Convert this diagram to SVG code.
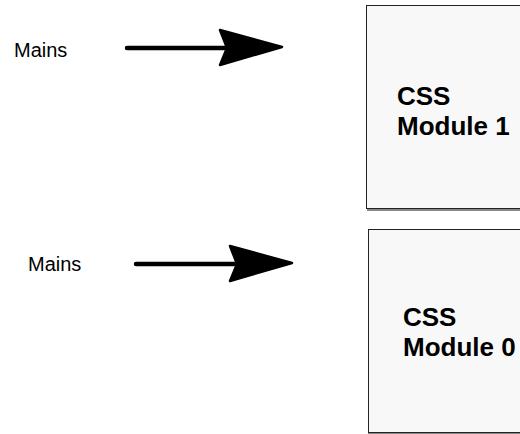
<svg xmlns="http://www.w3.org/2000/svg" width="520" height="434" viewBox="0 0 520 434">
<style>
.box{fill:#f8f8f8;stroke:#222;stroke-width:1}
.shadow{fill:#888}
.lbl{font-family:"Liberation Sans",Arial,sans-serif;font-size:20px;fill:#000}
.title{font-family:"Liberation Sans",Arial,sans-serif;font-size:26px;font-weight:bold;fill:#000}
.shaft{stroke:#000;stroke-width:4.5;stroke-linecap:round;fill:none}
.head{fill:#000;stroke:#000;stroke-width:2.5;stroke-linejoin:round}
</style>
<rect width="520" height="434" fill="#fff"/>
<g id="mains1"><text class="lbl" x="14" y="57">Mains</text></g>
<g id="mains0"><text class="lbl" x="28" y="271">Mains</text></g>
<g id="module1">
<rect class="shadow" x="367" y="6" width="160" height="205"/>
<rect class="box" x="366.5" y="5.5" width="160" height="203"/>
<text class="title" x="397" y="105">CSS</text>
<text class="title" x="397" y="135">Module 1</text>
</g>
<g id="module0">
<rect class="shadow" x="368" y="230" width="160" height="206"/>
<rect class="box" x="368.5" y="229.5" width="160" height="203"/>
<text class="title" x="403" y="326">CSS</text>
<text class="title" x="403" y="356">Module 0</text>
</g>
<g id="connectors">
<line class="shaft" x1="127" y1="48" x2="226" y2="48"/>
<path class="head" d="M220,30 L282,47 L220,65 L227,48 Z"/>
<line class="shaft" x1="136" y1="264" x2="236" y2="264"/>
<path class="head" d="M230,246 L292,263 L230,281 L237,264 Z"/>
</g>
</svg>
